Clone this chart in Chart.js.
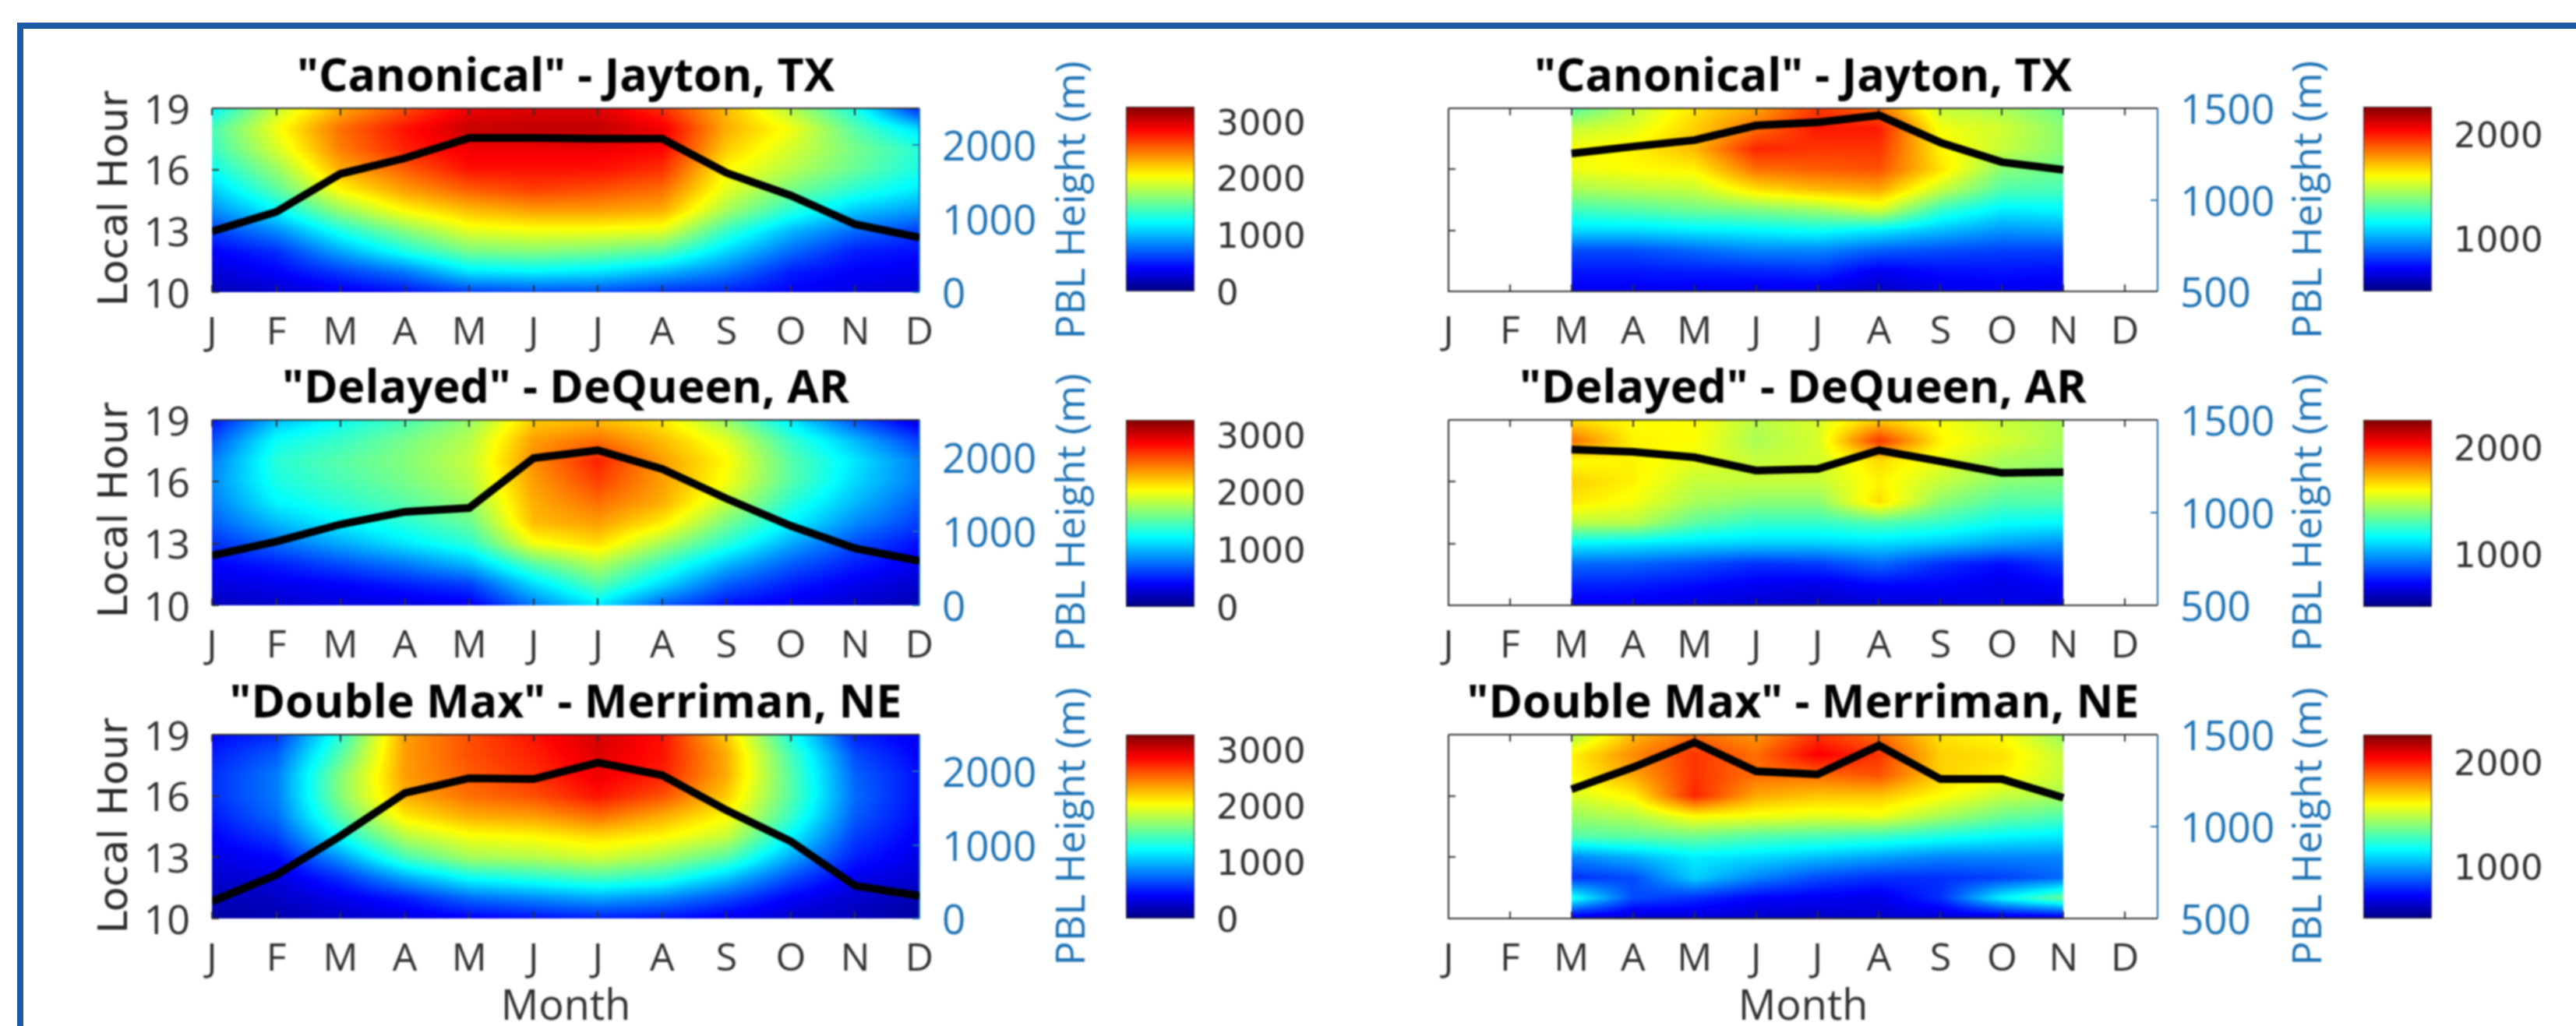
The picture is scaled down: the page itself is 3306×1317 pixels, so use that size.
<!DOCTYPE html>
<html>
<head>
<meta charset="utf-8">
<title>PBL height</title>
<script src="https://cdn.jsdelivr.net/npm/chart.js@4"></script>
<style>
  html, body { margin: 0; background: #fff; overflow: hidden; }
  #page { position: relative; width: 3306px; height: 1317px; overflow: hidden; }
  #border { position: absolute; left: 22px; top: 29px; width: 3300px; height: 1300px; border-left: 8px solid #1f5aa6; border-top: 8px solid #1f5aa6; }
  canvas { position: absolute; filter: blur(0.8px); }
</style>
</head>
<body>
<div id="page"><div id="border"></div></div>
<script>
const monthLabels = ['J', 'F', 'M', 'A', 'M', 'J', 'J', 'A', 'S', 'O', 'N', 'D'];
const allMonths = [1, 2, 3, 4, 5, 6, 7, 8, 9, 10, 11, 12];
const warmMonths = [3, 4, 5, 6, 7, 8, 9, 10, 11];
const localHours = [10, 11, 12, 13, 14, 15, 16, 17, 18, 19];
const hourTicks = [10, 13, 16, 19];
const pblTicksLeft = [0, 1000, 2000];
const pblTicksRight = [500, 1000, 1500];
const cbTicksLeft = [0, 1000, 2000, 3000];
const cbTicksRight = [1000, 2000];
const cbRangeLeft = [0, 3260];
const cbRangeRight = [500, 2260];

// peak PBL height per month (black lines, read against the blue axis)
const peakJaytonLeft = [826, 1091, 1610, 1822, 2097, 2097, 2087, 2087, 1621, 1314, 922, 742];
const peakDeQueenLeft = [672, 861, 1092, 1261, 1313, 1985, 2090, 1838, 1439, 1071, 767, 599];
const peakMerrimanLeft = [233, 593, 1123, 1706, 1907, 1896, 2119, 1949, 1472, 1049, 445, 307];
const peakJaytonRight = [1253, 1291, 1326, 1406, 1423, 1462, 1313, 1206, 1164];
const peakDeQueenRight = [1340, 1328, 1298, 1227, 1235, 1336, 1277, 1214, 1218];
const peakMerrimanRight = [1203, 1322, 1458, 1301, 1284, 1441, 1258, 1258, 1157];

// heat tables: one row per month, values for hours 10..19
const heatJaytonLeft = [
  [180, 280, 400, 600, 850, 1050, 1250, 1400, 1450, 1200],
  [250, 400, 550, 850, 1200, 1500, 1700, 1900, 2000, 1850],
  [350, 600, 950, 1300, 1700, 2050, 2300, 2450, 2500, 2300],
  [450, 800, 1300, 1650, 2050, 2350, 2550, 2750, 2800, 2600],
  [600, 1150, 1600, 1950, 2250, 2550, 2800, 2900, 3030, 2900],
  [650, 1200, 1650, 2000, 2350, 2650, 2800, 2900, 3050, 2950],
  [650, 1150, 1600, 2000, 2350, 2600, 2800, 2900, 3050, 2950],
  [550, 1000, 1500, 1950, 2300, 2500, 2700, 2850, 2900, 2700],
  [500, 800, 1100, 1400, 1750, 1950, 2050, 2200, 2300, 2250],
  [400, 500, 750, 1000, 1350, 1600, 1800, 1900, 2000, 1800],
  [300, 400, 500, 750, 1050, 1350, 1550, 1600, 1500, 1300],
  [250, 350, 450, 600, 900, 1150, 1300, 1350, 1100, 500]
];
const heatDeQueenLeft = [
  [200, 300, 400, 550, 700, 800, 850, 800, 650, 450],
  [250, 350, 500, 750, 1000, 1200, 1300, 1350, 1250, 1000],
  [300, 400, 650, 950, 1200, 1350, 1450, 1500, 1400, 1250],
  [300, 500, 800, 1150, 1350, 1500, 1600, 1650, 1600, 1450],
  [350, 600, 1000, 1350, 1550, 1700, 1800, 1850, 1800, 1700],
  [800, 1100, 1500, 2000, 2250, 2300, 2350, 2400, 2350, 2200],
  [1150, 1500, 1800, 2150, 2350, 2500, 2650, 2750, 2500, 2250],
  [700, 1100, 1400, 1750, 2100, 2300, 2350, 2350, 2250, 2100],
  [450, 700, 1000, 1350, 1600, 1850, 2000, 2050, 1950, 1700],
  [350, 500, 700, 950, 1200, 1350, 1500, 1500, 1400, 1150],
  [250, 350, 500, 650, 850, 1000, 1100, 1150, 1000, 650],
  [150, 250, 350, 450, 600, 700, 800, 800, 600, 300]
];
const heatMerrimanLeft = [
  [120, 180, 250, 320, 400, 480, 550, 550, 500, 400],
  [150, 220, 300, 420, 600, 750, 800, 800, 700, 550],
  [220, 350, 550, 900, 1250, 1500, 1650, 1650, 1500, 1350],
  [300, 500, 950, 1450, 1800, 2100, 2300, 2350, 2350, 2350],
  [380, 750, 1250, 1750, 2000, 2300, 2500, 2550, 2600, 2600],
  [450, 850, 1350, 1800, 2050, 2350, 2600, 2700, 2750, 2800],
  [500, 950, 1450, 1900, 2150, 2500, 2800, 2900, 2950, 3000],
  [450, 850, 1350, 1750, 2050, 2300, 2600, 2750, 2800, 2800],
  [350, 650, 1050, 1500, 1850, 2050, 2200, 2300, 2300, 2200],
  [250, 400, 650, 950, 1200, 1400, 1500, 1500, 1450, 1300],
  [170, 250, 350, 500, 600, 700, 750, 720, 650, 500],
  [100, 170, 250, 320, 380, 420, 450, 450, 400, 350]
];
const heatJaytonRight = [
  [700, 760, 850, 1100, 1270, 1450, 1570, 1590, 1500, 1300],
  [700, 760, 850, 1100, 1300, 1480, 1600, 1620, 1550, 1480],
  [690, 770, 900, 1130, 1350, 1500, 1620, 1720, 1680, 1650],
  [680, 780, 950, 1150, 1380, 1650, 1850, 1980, 1850, 1750],
  [670, 800, 950, 1180, 1430, 1720, 1880, 1950, 2000, 1950],
  [620, 700, 880, 1130, 1530, 1750, 1900, 1950, 2000, 1850],
  [680, 740, 850, 1050, 1250, 1500, 1650, 1620, 1580, 1500],
  [700, 750, 830, 980, 1130, 1300, 1400, 1500, 1520, 1450],
  [680, 740, 830, 1000, 1150, 1280, 1350, 1400, 1400, 1350]
];
const heatDeQueenRight = [
  [690, 780, 900, 1150, 1480, 1640, 1680, 1600, 1850, 1650],
  [690, 770, 890, 1130, 1480, 1580, 1620, 1620, 1620, 1600],
  [660, 740, 850, 1100, 1320, 1450, 1500, 1560, 1600, 1600],
  [640, 700, 800, 1080, 1250, 1400, 1500, 1500, 1450, 1480],
  [620, 680, 820, 1080, 1250, 1400, 1500, 1520, 1530, 1530],
  [650, 730, 900, 1100, 1300, 1660, 1620, 1660, 1950, 1680],
  [660, 720, 800, 1060, 1250, 1400, 1500, 1560, 1620, 1580],
  [680, 680, 740, 1000, 1170, 1300, 1400, 1450, 1530, 1500],
  [650, 720, 820, 960, 1150, 1300, 1380, 1420, 1450, 1450]
];
const heatMerrimanRight = [
  [650, 1200, 800, 950, 1300, 1430, 1530, 1600, 1620, 1450],
  [630, 850, 850, 1030, 1320, 1470, 1620, 1750, 1800, 1720],
  [640, 800, 1080, 1130, 1350, 1600, 1980, 1950, 1950, 1850],
  [630, 720, 950, 1100, 1300, 1580, 1750, 1850, 1850, 1780],
  [620, 700, 850, 1050, 1280, 1550, 1700, 1850, 2050, 1950],
  [640, 680, 800, 1000, 1250, 1570, 1700, 1900, 1950, 1850],
  [640, 800, 800, 950, 1200, 1450, 1600, 1680, 1680, 1650],
  [630, 1150, 830, 950, 1150, 1350, 1500, 1620, 1650, 1600],
  [640, 1350, 900, 950, 1120, 1300, 1450, 1500, 1500, 1420]
];

const BLUE = '#1c72b4';
const DARK = '#2a2a2a';
const GREY = '#303030';
const TICK_FONT = '"Open Sans", sans-serif';

function jet(t) {
  const c = v => Math.max(0, Math.min(1, v)) * 255;
  return [c(Math.min(4 * t - 1.5, -4 * t + 4.5)), c(Math.min(4 * t - 0.5, -4 * t + 3.5)), c(Math.min(4 * t + 0.5, -4 * t + 2.5))];
}

function bracket(list, v) {
  let i = 0;
  while (i < list.length - 2 && v > list[i + 1]) i++;
  const f = (v - list[i]) / (list[i + 1] - list[i]);
  return [i, Math.max(0, Math.min(1, f))];
}

// blank first line with a 10px line height nudges a y tick label down 5px
const nudged = v => ['', String(v)];

// paints a table through the chart's own x and y scales, shaded between cells
const heatPlugin = {
  id: 'heat',
  beforeDatasetsDraw(chart, args, opts) {
    const xs = chart.scales.x, ys = chart.scales.y;
    const x0 = Math.round(xs.getPixelForValue(opts.cols[0]));
    const x1 = Math.round(xs.getPixelForValue(opts.cols[opts.cols.length - 1]));
    const y0 = Math.round(ys.getPixelForValue(opts.rows[opts.rows.length - 1]));
    const y1 = Math.round(ys.getPixelForValue(opts.rows[0]));
    const w = x1 - x0, h = y1 - y0;
    const off = document.createElement('canvas');
    off.width = w; off.height = h;
    const octx = off.getContext('2d');
    const img = octx.createImageData(w, h);
    for (let j = 0; j < h; j++) {
      const [r, fr] = bracket(opts.rows, ys.getValueForPixel(y0 + j + 0.5));
      for (let i = 0; i < w; i++) {
        const [c, fc] = bracket(opts.cols, xs.getValueForPixel(x0 + i + 0.5));
        const t = opts.table;
        const v = (t[c][r] * (1 - fc) + t[c + 1][r] * fc) * (1 - fr) + (t[c][r + 1] * (1 - fc) + t[c + 1][r + 1] * fc) * fr;
        const col = jet((v - opts.range[0]) / (opts.range[1] - opts.range[0]));
        const p = (j * w + i) * 4;
        img.data[p] = col[0]; img.data[p + 1] = col[1]; img.data[p + 2] = col[2]; img.data[p + 3] = 255;
      }
    }
    octx.putImageData(img, 0, 0);
    chart.ctx.drawImage(off, x0, y0);
  }
};

// matlab style box and inward ticks, plus the right hand axis title
const framePlugin = {
  id: 'frame',
  beforeDatasetsDraw(chart, args, opts) {
    if (opts.box !== 'panel') return;
    const { ctx, chartArea: a, scales } = chart;
    ctx.save();
    ctx.lineWidth = 2;
    ctx.strokeStyle = GREY;
    ctx.beginPath();
    scales.x.ticks.forEach(t => {
      const x = Math.round(scales.x.getPixelForValue(t.value));
      ctx.moveTo(x, a.top); ctx.lineTo(x, a.top + 9);
      ctx.moveTo(x, a.bottom); ctx.lineTo(x, a.bottom - 9);
    });
    scales.y.ticks.forEach(t => {
      const y = Math.round(scales.y.getPixelForValue(t.value));
      ctx.moveTo(a.left, y); ctx.lineTo(a.left + 9, y);
    });
    ctx.stroke();
    ctx.strokeStyle = BLUE;
    ctx.beginPath();
    scales.pbl.ticks.forEach(t => {
      const y = Math.round(scales.pbl.getPixelForValue(t.value));
      ctx.moveTo(a.right, y); ctx.lineTo(a.right - 9, y);
    });
    ctx.moveTo(a.right, a.top); ctx.lineTo(a.right, a.bottom);
    ctx.stroke();
    ctx.restore();
  },
  afterDatasetsDraw(chart, args, opts) {
    const { ctx, chartArea: a } = chart;
    ctx.save();
    ctx.lineWidth = 2;
    ctx.strokeStyle = GREY;
    if (opts.box === 'bar') {
      ctx.lineWidth = 1;
      ctx.strokeRect(a.left + 0.5, a.top + 0.5, a.right - a.left - 1, a.bottom - a.top - 1);
    } else {
      ctx.beginPath();
      ctx.moveTo(a.left, a.top); ctx.lineTo(a.right, a.top);
      if (opts.outline) {
        ctx.moveTo(a.left, a.top); ctx.lineTo(a.left, a.bottom);
        ctx.lineTo(a.right, a.bottom);
      }
      ctx.stroke();
    }
    ctx.restore();
    if (opts.rightTitle) {
      ctx.save();
      ctx.translate(a.right + opts.rightTitleOffset, (a.top + a.bottom) / 2);
      ctx.rotate(-Math.PI / 2);
      ctx.fillStyle = BLUE;
      ctx.font = '52px ' + TICK_FONT;
      ctx.textAlign = 'center';
      ctx.textBaseline = 'middle';
      ctx.fillText(opts.rightTitle, 0, 0);
      ctx.restore();
    }
  }
};

function addCanvas(left, top, width, height) {
  const cv = document.createElement('canvas');
  cv.width = width; cv.height = height;
  cv.style.left = left + 'px';
  cv.style.top = top + 'px';
  document.getElementById('page').appendChild(cv);
  return cv.getContext('2d');
}

function drawPanel(p) {
  const boxLeft = p.left - 100;
  const boxBottom = p.showMonth ? 137 : 90;
  const canvasW = p.right + 230 - boxLeft;
  const ctx = addCanvas(boxLeft, p.top - 70, canvasW, p.bottom - p.top + 70 + boxBottom);
  new Chart(ctx, {
    type: 'line',
    data: {
      datasets: [{
        data: p.months.map((m, i) => ({ x: m, y: p.peak[i] })),
        yAxisID: 'pbl',
        borderColor: '#000',
        borderWidth: 10,
        pointRadius: 0,
        tension: 0
      }]
    },
    plugins: [heatPlugin, framePlugin],
    options: {
      responsive: false,
      animation: false,
      layout: { padding: 0 },
      plugins: {
        legend: { display: false },
        tooltip: { enabled: false },
        title: {
          display: true,
          fullSize: false,
          text: p.title,
          color: '#000',
          font: { family: TICK_FONT, size: 59, weight: 'bold', lineHeight: '62px' },
          padding: { top: 0, bottom: 8 }
        },
        heat: { cols: p.months, rows: localHours, table: p.heat, range: p.range },
        frame: { box: 'panel', outline: p.outline, rightTitle: 'PBL Height (m)', rightTitleOffset: p.rightTitleOffset }
      },
      scales: {
        x: {
          type: 'linear',
          min: 1,
          max: p.xMax,
          afterBuildTicks: s => { s.ticks = allMonths.map(v => ({ value: v })); },
          afterFit: s => { s.height = boxBottom; },
          grid: { display: false },
          border: { display: false },
          ticks: {
            autoSkip: false, maxRotation: 0, minRotation: 0,
            padding: 15,
            color: GREY,
            font: { family: TICK_FONT, size: 50 },
            callback: v => monthLabels[v - 1]
          },
          title: {
            display: !!p.showMonth,
            text: 'Month',
            color: GREY,
            padding: 0,
            font: { family: TICK_FONT, size: 54, lineHeight: '44px' }
          }
        },
        y: {
          type: 'linear',
          position: 'left',
          min: 10,
          max: 19,
          afterBuildTicks: s => { s.ticks = hourTicks.map(v => ({ value: v })); },
          afterFit: s => { s.width = 100; },
          grid: { display: false },
          border: { display: false },
          ticks: {
            display: !!p.hourLabels,
            padding: 20,
            color: GREY,
            font: { family: TICK_FONT, size: 52, lineHeight: '10px' },
            callback: nudged
          },
          title: {
            display: false
          }
        },
        pbl: {
          type: 'linear',
          position: 'right',
          min: p.pblRange[0],
          max: p.pblRange[1],
          afterBuildTicks: s => { s.ticks = p.pblTicks.map(v => ({ value: v })); },
          afterFit: s => { s.width = 230; },
          grid: { display: false },
          border: { display: false },
          ticks: {
            padding: 21,
            color: BLUE,
            font: { family: TICK_FONT, size: 53, lineHeight: '10px' },
            callback: nudged
          }
        }
      }
    }
  });
}

function drawColorbar(b) {
  const ctx = addCanvas(b.left, b.top - 30, 230, b.bottom - b.top + 60);
  new Chart(ctx, {
    type: 'line',
    data: { datasets: [] },
    plugins: [heatPlugin, framePlugin],
    options: {
      responsive: false,
      animation: false,
      layout: { padding: { top: 30, bottom: 30, left: 0, right: 0 } },
      plugins: {
        legend: { display: false },
        tooltip: { enabled: false },
        heat: { cols: [0, 1], rows: b.range, table: [b.range, b.range], range: b.range },
        frame: { box: 'bar' }
      },
      scales: {
        x: { type: 'linear', min: 0, max: 1, display: false },
        y: {
          type: 'linear',
          position: 'right',
          min: b.range[0],
          max: b.range[1],
          afterBuildTicks: s => { s.ticks = b.ticks.map(v => ({ value: v })); },
          afterFit: s => { s.width = 230 - 88; s.paddingTop = 0; s.paddingBottom = 0; },
          grid: { display: false },
          border: { display: false },
          ticks: {
            padding: 20,
            color: GREY,
            font: { family: '"DejaVu Sans", sans-serif', size: 45, lineHeight: '10px' },
            callback: nudged
          }
        }
      }
    }
  });
}

function drawHourTitle(top, bottom) {
  // the left axis title sits in its own strip so it can run past the plot height
  const ctx = addCanvas(124, top - 20, 50, bottom - top + 40);
  new Chart(ctx, {
    type: 'line',
    data: { datasets: [] },
    options: {
      responsive: false,
      animation: false,
      layout: { padding: 0 },
      plugins: { legend: { display: false }, tooltip: { enabled: false } },
      scales: {
        x: { display: false },
        y: {
          position: 'left',
          afterFit: s => { s.width = 50; },
          grid: { display: false },
          border: { display: false },
          ticks: { display: false },
          title: {
            display: true,
            text: 'Local Hour',
            color: DARK,
            padding: 0,
            font: { family: '"DejaVu Sans", sans-serif', size: 52, lineHeight: '50px' }
          }
        }
      }
    }
  });
}

const leftCol = { left: 272, right: 1180, xMax: 12, months: allMonths, range: cbRangeLeft, pblRange: [0, 2500], pblTicks: pblTicksLeft, hourLabels: true, outline: false, rightTitleOffset: 197 };
const rightCol = { left: 1859, right: 2769, xMax: 12.53, months: warmMonths, range: cbRangeRight, pblRange: [500, 1500], pblTicks: pblTicksRight, hourLabels: false, outline: true, rightTitleOffset: 195 };

drawPanel({ ...leftCol, top: 139, bottom: 375, title: '"Canonical" - Jayton, TX', peak: peakJaytonLeft, heat: heatJaytonLeft });
drawPanel({ ...leftCol, top: 539, bottom: 777, title: '"Delayed" - DeQueen, AR', peak: peakDeQueenLeft, heat: heatDeQueenLeft });
drawPanel({ ...leftCol, top: 943, bottom: 1179, title: '"Double Max" - Merriman, NE', peak: peakMerrimanLeft, heat: heatMerrimanLeft, showMonth: true });
drawPanel({ ...rightCol, top: 139, bottom: 374, title: '"Canonical" - Jayton, TX', peak: peakJaytonRight, heat: heatJaytonRight });
drawPanel({ ...rightCol, top: 539, bottom: 777, title: '"Delayed" - DeQueen, AR', peak: peakDeQueenRight, heat: heatDeQueenRight });
drawPanel({ ...rightCol, top: 943, bottom: 1179, title: '"Double Max" - Merriman, NE', peak: peakMerrimanRight, heat: heatMerrimanRight, showMonth: true });

drawHourTitle(125, 385);
drawHourTitle(525, 785);
drawHourTitle(930, 1190);

drawColorbar({ left: 1445, top: 137, bottom: 374, range: cbRangeLeft, ticks: cbTicksLeft });
drawColorbar({ left: 1445, top: 539, bottom: 779, range: cbRangeLeft, ticks: cbTicksLeft });
drawColorbar({ left: 1445, top: 943, bottom: 1179, range: cbRangeLeft, ticks: cbTicksLeft });
drawColorbar({ left: 3033, top: 137, bottom: 374, range: cbRangeRight, ticks: cbTicksRight });
drawColorbar({ left: 3033, top: 539, bottom: 779, range: cbRangeRight, ticks: cbTicksRight });
drawColorbar({ left: 3033, top: 943, bottom: 1179, range: cbRangeRight, ticks: cbTicksRight });
</script>
</body>
</html>
